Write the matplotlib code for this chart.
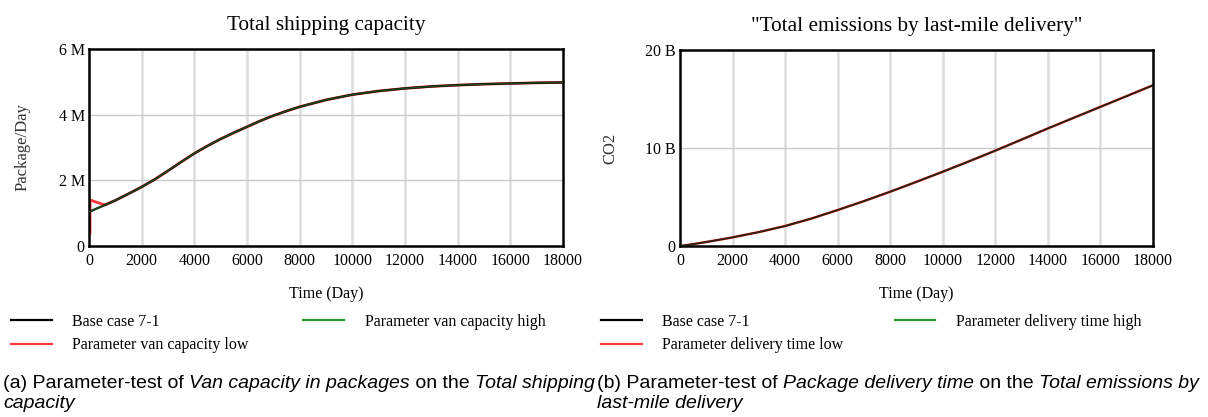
import matplotlib
matplotlib.use("Agg")
import matplotlib.pyplot as plt
from matplotlib.lines import Line2D
from matplotlib.text import Annotation

# ---- data ----
days = [0, 610, 1000, 1500, 2000, 2500, 3000, 3500, 4000, 4500, 5000, 5500, 6000,
        6500, 7000, 7500, 8000, 9000, 10000, 11000, 12000, 13000, 14000, 15000,
        16000, 17000, 18000]
capacity_base = [1.04, 1.25, 1.39, 1.59, 1.80, 2.03, 2.29, 2.56, 2.82, 3.05, 3.26, 3.45, 3.63,
                 3.81, 3.97, 4.11, 4.24, 4.45, 4.61, 4.72, 4.80, 4.86, 4.90, 4.93,
                 4.95, 4.97, 4.98]
capacity_high = [1.04, 1.25, 1.39, 1.59, 1.80, 2.03, 2.29, 2.56, 2.82, 3.05, 3.26, 3.45, 3.63,
                 3.81, 3.97, 4.11, 4.24, 4.45, 4.61, 4.72, 4.80, 4.86, 4.90, 4.93,
                 4.95, 4.97, 4.98]
days_low = [40, 40, 610, 1000, 1500, 2000, 2500, 3000, 3500, 4000, 4500, 5000, 5500, 6000,
            6500, 7000, 7500, 8000, 9000, 10000, 11000, 12000, 13000, 14000, 15000,
            16000, 17000, 18000]
capacity_low = [0.40, 1.40, 1.25, 1.39, 1.59, 1.80, 2.03, 2.29, 2.56, 2.82, 3.05, 3.26, 3.45, 3.63,
                3.81, 3.97, 4.11, 4.24, 4.45, 4.61, 4.72, 4.80, 4.86, 4.90, 4.93,
                4.95, 4.97, 4.98]

days_b = [0, 500, 1000, 1500, 2000, 3000, 4000, 5000, 6000, 7000, 8000, 9000,
          10000, 11000, 12000, 13000, 14000, 15000, 16000, 17000, 18000]
emis_base = [0.0, 0.19, 0.41, 0.64, 0.88, 1.42, 2.04, 2.80, 3.67, 4.58, 5.54, 6.55,
             7.58, 8.64, 9.73, 10.86, 12.0, 13.1, 14.2, 15.3, 16.4]
emis_low = emis_base
emis_high = emis_base

xticks = list(range(0, 18001, 2000))
yticks_a = [0, 2, 4, 6]
ylabels_a = ["0", "2 M", "4 M", "6 M"]
yticks_b = [0, 10, 20]
ylabels_b = ["0", "10 B", "20 B"]

SERIF = "Liberation Serif"
SANS = "Liberation Sans"
plt.rcParams["font.family"] = SERIF

RED = "#ff3a3a"
GREEN = "#2f7a2f"

fig = plt.figure(figsize=(12.08, 4.17), dpi=100)
ax_a = fig.add_axes([89 / 1208, 1 - 246 / 417, 474 / 1208, 197 / 417])
ax_b = fig.add_axes([680 / 1208, 1 - 246 / 417, 473 / 1208, 196 / 417])


def style_axes(ax, yticks, ylabels, ymax, title, ylabel):
    ax.set_xlim(0, 18000)
    ax.set_ylim(0, ymax)
    ax.set_xticks(xticks)
    ax.set_yticks(yticks)
    ax.set_yticklabels(ylabels)
    ax.tick_params(length=0, labelsize=11.5, pad=3)
    ax.tick_params(axis="x", pad=5)
    for s in ax.spines.values():
        s.set_linewidth(1.8)
        s.set_color("black")
    for x in xticks[1:-1]:
        ax.axvline(x, color="#dddddd", lw=1.8, zorder=0)
    for y in yticks[1:-1]:
        ax.axhline(y, color="#c8c8c8", lw=1.0, zorder=0)
    ax.set_title(title, fontsize=15.3, pad=13.5)
    ax.set_xlabel("Time (Day)", fontsize=11.5, labelpad=12)
    ax.set_ylabel(ylabel, fontsize=12, color="#333333", labelpad=20)


style_axes(ax_a, yticks_a, ylabels_a, 6, "Total shipping capacity", "Package/Day")
style_axes(ax_b, yticks_b, ylabels_b, 20, "\"Total emissions by last-mile delivery\"", "CO2")
ax_b.yaxis.labelpad = 19

# left chart
ax_a.plot(days_low, capacity_low, color=RED, lw=2.0, zorder=2)
ax_a.plot(days, capacity_base, color="black", lw=1.6, zorder=3)
ax_a.plot(days, capacity_high, color=GREEN, lw=1.0, alpha=0.6, zorder=4)

# right chart
ax_b.plot(days_b, emis_low, color=RED, lw=1.8, zorder=2)
ax_b.plot(days_b, emis_base, color="black", lw=1.3, alpha=0.85, zorder=3)
ax_b.plot(days_b, emis_high, color=GREEN, lw=0.8, alpha=0.3, zorder=4)


def make_legend(x0, labels, colspace):
    handles = [Line2D([], [], color="black", lw=1.6),
               Line2D([], [], color=RED, lw=1.6),
               Line2D([], [], color="#2a9a2a", lw=1.6)]
    fig.legend(handles, labels, loc="upper left", bbox_to_anchor=(x0 / 1208, 1 - 314 / 417),
               ncol=2, frameon=False, fontsize=11.5, handlelength=2.55, handletextpad=1.3,
               columnspacing=colspace, labelspacing=0.45, borderpad=0, borderaxespad=0)


make_legend(11, ["Base case 7-1", "Parameter van capacity low", "Parameter van capacity high"], 3.4)
make_legend(601, ["Base case 7-1", "Parameter delivery time low", "Parameter delivery time high"], 3.2)


def chain_text(x0, y0, parts, size=14):
    # normal/italic pieces placed one after another on a baseline
    prev = fig.text(x0 / 1208, 1 - y0 / 417, parts[0][0], fontsize=size, family=SANS,
                    style="italic" if parts[0][1] else "normal", va="baseline", ha="left")
    for text, italic in parts[1:]:
        prev = fig.add_artist(Annotation(
            text, xy=(1, 0), xycoords=prev, xytext=(0, 0), textcoords="offset points",
            fontsize=size, family=SANS, style="italic" if italic else "normal",
            va="bottom", ha="left"))
    return prev


chain_text(3, 388, [("(a) Parameter-test of ", False), ("Van capacity in packages", True),
                    (" on the ", False), ("Total shipping", True)])
chain_text(3, 408, [("capacity", True)])
chain_text(597, 388, [("(b) Parameter-test of ", False), ("Package delivery time", True),
                      (" on the ", False), ("Total emissions by", True)])
chain_text(597, 408, [("last-mile delivery", True)])

fig.savefig("out.png", dpi=100)
